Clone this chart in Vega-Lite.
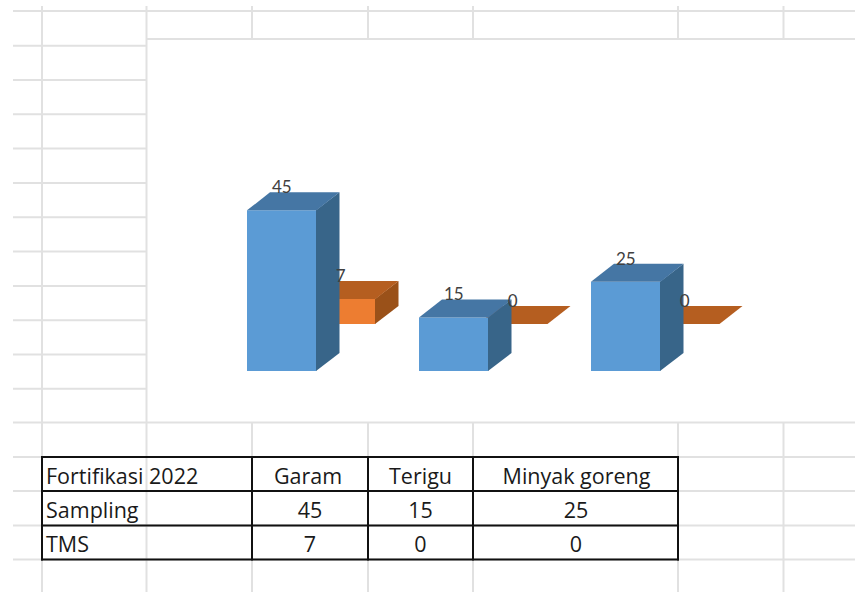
{
"$schema":"https://vega.github.io/schema/vega-lite/v6.json",
"width":855,"height":592,"padding":0,
"autosize":{"type":"none"},
"background":"white",
"config":{"view":{"stroke":null}},
"resolve":{"scale":{"x":"independent","y":"independent","color":"independent"}},
"datasets":{
"values":[
{"category":"Garam","series":"TMS","value":7},
{"category":"Terigu","series":"TMS","value":0},
{"category":"Minyak goreng","series":"TMS","value":0},
{"category":"Garam","series":"Sampling","value":45},
{"category":"Terigu","series":"Sampling","value":15},
{"category":"Minyak goreng","series":"Sampling","value":25}
],
"hlines":[
{"row":11,"from":13,"to":855},{"row":45.7,"from":13,"to":147},{"row":80,"from":13,"to":147},{"row":114.3,"from":13,"to":147},{"row":148.6,"from":13,"to":147},{"row":183,"from":13,"to":147},{"row":217.3,"from":13,"to":147},{"row":251.6,"from":13,"to":147},{"row":286,"from":13,"to":147},{"row":320.2,"from":13,"to":147},{"row":354.5,"from":13,"to":147},{"row":388.8,"from":13,"to":147},
{"row":39,"from":146,"to":855},{"row":422.5,"from":13,"to":855},
{"row":457,"from":13,"to":855},{"row":491,"from":13,"to":855},{"row":525.5,"from":13,"to":855},{"row":559.5,"from":13,"to":855}
],
"vlines":[
{"col":42,"from":6,"to":592},{"col":146.5,"from":6,"to":592},
{"col":252,"from":6,"to":39},{"col":368,"from":6,"to":39},{"col":473,"from":6,"to":39},{"col":678,"from":6,"to":39},{"col":783.5,"from":6,"to":39},
{"col":252,"from":422,"to":592},{"col":368,"from":422,"to":592},{"col":473,"from":422,"to":592},{"col":678,"from":422,"to":592},{"col":783.5,"from":422,"to":592}
],
"tableH":[{"row":457,"from":41,"to":679},{"row":491,"from":41,"to":679},{"row":525.5,"from":41,"to":679},{"row":559.5,"from":41,"to":679}],
"tableV":[{"col":42,"from":456,"to":560.5},{"col":252,"from":456,"to":560.5},{"col":368,"from":456,"to":560.5},{"col":473,"from":456,"to":560.5},{"col":678,"from":456,"to":560.5}],
"tableLeft":[{"text":"Fortifikasi 2022","col":46,"row":476},{"text":"Sampling","col":46,"row":510},{"text":"TMS","col":46,"row":544}],
"tableCenter":[
{"text":"Garam","col":308,"row":476},{"text":"Terigu","col":420.5,"row":476},{"text":"Minyak goreng","col":576.5,"row":476},
{"text":"45","col":310,"row":510},{"text":"15","col":420.5,"row":510},{"text":"25","col":576,"row":510},
{"text":"7","col":310,"row":544},{"text":"0","col":420.5,"row":544},{"text":"0","col":576,"row":544}
],
"faces":[
{"series":"TMS","category":"Garam","face":"side","pos":375,"lo":13.165,"hi":20.165},
{"series":"TMS","category":"Garam","face":"side","pos":398.5,"lo":18.205,"hi":25.205},
{"series":"TMS","category":"Garam","face":"top","pos":306,"lo":20.165,"hi":20.165},
{"series":"TMS","category":"Garam","face":"top","pos":329,"lo":20.165,"hi":25.205},
{"series":"TMS","category":"Garam","face":"top","pos":375.5,"lo":20.165,"hi":25.205},
{"series":"TMS","category":"Garam","face":"top","pos":398.5,"lo":25.205,"hi":25.205},
{"series":"TMS","category":"Terigu","face":"top","pos":478,"lo":13.165,"hi":13.165},
{"series":"TMS","category":"Terigu","face":"top","pos":501,"lo":13.165,"hi":18.205},
{"series":"TMS","category":"Terigu","face":"top","pos":547.5,"lo":13.165,"hi":18.205},
{"series":"TMS","category":"Terigu","face":"top","pos":570.5,"lo":18.205,"hi":18.205},
{"series":"TMS","category":"Minyak goreng","face":"top","pos":650,"lo":13.165,"hi":13.165},
{"series":"TMS","category":"Minyak goreng","face":"top","pos":673,"lo":13.165,"hi":18.205},
{"series":"TMS","category":"Minyak goreng","face":"top","pos":719.5,"lo":13.165,"hi":18.205},
{"series":"TMS","category":"Minyak goreng","face":"top","pos":742.5,"lo":18.205,"hi":18.205},
{"series":"Sampling","category":"Garam","face":"side","pos":316,"lo":0,"hi":45},
{"series":"Sampling","category":"Garam","face":"side","pos":339.5,"lo":5.04,"hi":50.04},
{"series":"Sampling","category":"Garam","face":"top","pos":247,"lo":45,"hi":45},
{"series":"Sampling","category":"Garam","face":"top","pos":270,"lo":45,"hi":50.04},
{"series":"Sampling","category":"Garam","face":"top","pos":316.5,"lo":45,"hi":50.04},
{"series":"Sampling","category":"Garam","face":"top","pos":339.5,"lo":50.04,"hi":50.04},
{"series":"Sampling","category":"Terigu","face":"side","pos":488,"lo":0,"hi":15},
{"series":"Sampling","category":"Terigu","face":"side","pos":511.5,"lo":5.04,"hi":20.04},
{"series":"Sampling","category":"Terigu","face":"top","pos":419,"lo":15,"hi":15},
{"series":"Sampling","category":"Terigu","face":"top","pos":442,"lo":15,"hi":20.04},
{"series":"Sampling","category":"Terigu","face":"top","pos":488.5,"lo":15,"hi":20.04},
{"series":"Sampling","category":"Terigu","face":"top","pos":511.5,"lo":20.04,"hi":20.04},
{"series":"Sampling","category":"Minyak goreng","face":"side","pos":660,"lo":0,"hi":25},
{"series":"Sampling","category":"Minyak goreng","face":"side","pos":683.5,"lo":5.04,"hi":30.04},
{"series":"Sampling","category":"Minyak goreng","face":"top","pos":591,"lo":25,"hi":25},
{"series":"Sampling","category":"Minyak goreng","face":"top","pos":614,"lo":25,"hi":30.04},
{"series":"Sampling","category":"Minyak goreng","face":"top","pos":660.5,"lo":25,"hi":30.04},
{"series":"Sampling","category":"Minyak goreng","face":"top","pos":683.5,"lo":30.04,"hi":30.04}
]
},
"layer":[
{"data":{"name":"hlines"},"mark":{"type":"rule","color":"#E1E1E1","strokeWidth":2},
"encoding":{"y":{"field":"row","type":"quantitative","axis":null,"scale":{"domain":[592,0],"nice":false,"zero":false}},
"x":{"field":"from","type":"quantitative","axis":null,"scale":{"domain":[0,855],"nice":false,"zero":false}},"x2":{"field":"to"}}},
{"data":{"name":"vlines"},"mark":{"type":"rule","color":"#E1E1E1","strokeWidth":2},
"encoding":{"x":{"field":"col","type":"quantitative","axis":null,"scale":{"domain":[0,855],"nice":false,"zero":false}},
"y":{"field":"from","type":"quantitative","axis":null,"scale":{"domain":[592,0],"nice":false,"zero":false}},"y2":{"field":"to"}}},
{"data":{"name":"tableH"},"mark":{"type":"rule","color":"#111111","strokeWidth":2},
"encoding":{"y":{"field":"row","type":"quantitative","axis":null,"scale":{"domain":[592,0],"nice":false,"zero":false}},
"x":{"field":"from","type":"quantitative","axis":null,"scale":{"domain":[0,855],"nice":false,"zero":false}},"x2":{"field":"to"}}},
{"data":{"name":"tableV"},"mark":{"type":"rule","color":"#111111","strokeWidth":2},
"encoding":{"x":{"field":"col","type":"quantitative","axis":null,"scale":{"domain":[0,855],"nice":false,"zero":false}},
"y":{"field":"from","type":"quantitative","axis":null,"scale":{"domain":[592,0],"nice":false,"zero":false}},"y2":{"field":"to"}}},
{"data":{"name":"tableLeft"},"mark":{"type":"text","align":"left","baseline":"middle","font":"Open Sans","fontSize":21.5,"color":"#1a1a1a","dy":1.5},
"encoding":{"x":{"field":"col","type":"quantitative","axis":null,"scale":{"domain":[0,855],"nice":false,"zero":false}},
"y":{"field":"row","type":"quantitative","axis":null,"scale":{"domain":[592,0],"nice":false,"zero":false}},"text":{"field":"text"}}},
{"data":{"name":"tableCenter"},"mark":{"type":"text","align":"center","baseline":"middle","font":"Open Sans","fontSize":21.5,"color":"#1a1a1a","dy":1.5},
"encoding":{"x":{"field":"col","type":"quantitative","axis":null,"scale":{"domain":[0,855],"nice":false,"zero":false}},
"y":{"field":"row","type":"quantitative","axis":null,"scale":{"domain":[592,0],"nice":false,"zero":false}},"text":{"field":"text"}}},
{"data":{"name":"values"},"transform":[{"filter":"datum.series==='TMS'"}],
"mark":{"type":"bar","color":"#ED7D31","width":69.5,"xOffset":59,"yOffset":-47},
"encoding":{"x":{"field":"category","type":"nominal","axis":null,"sort":null,"scale":{"domain":["Garam","Terigu","Minyak goreng"],"range":[195.75,711.75],"paddingInner":0,"paddingOuter":0}},
"y":{"field":"value","type":"quantitative","axis":null,"scale":{"domain":[-61.9,103.92],"nice":false,"zero":false}}}},
{"data":{"name":"faces"},"transform":[{"filter":"datum.series==='TMS'"}],
"mark":{"type":"area","orient":"vertical"},
"encoding":{"x":{"field":"pos","type":"quantitative","axis":null,"scale":{"domain":[0,855],"nice":false,"zero":false}},
"y":{"field":"hi","type":"quantitative","axis":null,"stack":null,"scale":{"domain":[-61.9,103.92],"nice":false,"zero":false}},"y2":{"field":"lo"},
"detail":{"field":"category"},
"color":{"field":"face","type":"nominal","legend":null,"scale":{"domain":["side","top"],"range":["#9A5119","#B55E20"]}}}},
{"data":{"name":"values"},"transform":[{"filter":"datum.series==='Sampling'"}],
"mark":{"type":"bar","color":"#5B9BD5","width":69.5},
"encoding":{"x":{"field":"category","type":"nominal","axis":null,"sort":null,"scale":{"domain":["Garam","Terigu","Minyak goreng"],"range":[195.75,711.75],"paddingInner":0,"paddingOuter":0}},
"y":{"field":"value","type":"quantitative","axis":null,"scale":{"domain":[-61.9,103.92],"nice":false,"zero":false}}}},
{"data":{"name":"faces"},"transform":[{"filter":"datum.series==='Sampling'"}],
"mark":{"type":"area","orient":"vertical"},
"encoding":{"x":{"field":"pos","type":"quantitative","axis":null,"scale":{"domain":[0,855],"nice":false,"zero":false}},
"y":{"field":"hi","type":"quantitative","axis":null,"stack":null,"scale":{"domain":[-61.9,103.92],"nice":false,"zero":false}},"y2":{"field":"lo"},
"detail":{"field":"category"},
"color":{"field":"face","type":"nominal","legend":null,"scale":{"domain":["side","top"],"range":["#386589","#4576A4"]}}}},
{"data":{"name":"values"},"transform":[{"filter":"datum.series==='TMS'"}],
"mark":{"type":"text","font":"Lato","fontSize":17,"color":"#404040","baseline":"middle","dx":59,"dy":-69},
"encoding":{"x":{"field":"category","type":"nominal","axis":null,"sort":null,"scale":{"domain":["Garam","Terigu","Minyak goreng"],"range":[195.75,711.75],"paddingInner":0,"paddingOuter":0}},
"y":{"field":"value","type":"quantitative","axis":null,"scale":{"domain":[-61.9,103.92],"nice":false,"zero":false}},"text":{"field":"value","type":"quantitative"}}},
{"data":{"name":"values"},"transform":[{"filter":"datum.series==='Sampling'"}],
"mark":{"type":"text","font":"Lato","fontSize":17,"color":"#404040","baseline":"middle","dy":-22},
"encoding":{"x":{"field":"category","type":"nominal","axis":null,"sort":null,"scale":{"domain":["Garam","Terigu","Minyak goreng"],"range":[195.75,711.75],"paddingInner":0,"paddingOuter":0}},
"y":{"field":"value","type":"quantitative","axis":null,"scale":{"domain":[-61.9,103.92],"nice":false,"zero":false}},"text":{"field":"value","type":"quantitative"}}}
]
}
